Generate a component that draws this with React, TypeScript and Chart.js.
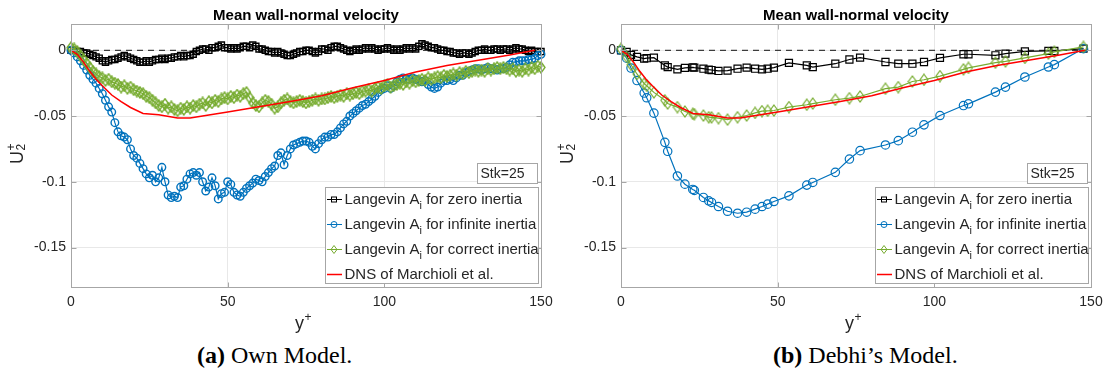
import React, { useEffect, useRef } from "react";
import { Chart, registerables } from "chart.js";

Chart.register(...registerables);

const FONT = '"Liberation Sans", Arial, Helvetica, sans-serif';
const TEXT = "#262626";
const AXIS = "#a6a6a6";
const GRID = "#e8e8e8";
const BLACK = "#000000";
const BLUE = "#0072BD";
const GREEN = "#77AC30";
const RED = "#FF0000";

// ---------- data: own model (left) ----------
const yPlusOwn = [
  0, 1, 2, 3, 4, 5, 6, 7, 8, 9, 10, 11, 12, 13, 14, 15, 16, 17, 18, 19, 20, 21, 22, 23, 24, 25, 26, 27, 28, 29,
  30, 31, 32, 33, 34, 35, 36, 37, 38, 39, 40, 41, 42, 43, 44, 45, 46, 47, 48, 49, 50, 51, 52, 53, 54, 55, 56, 57, 58, 59,
  60, 61, 62, 63, 64, 65, 66, 67, 68, 69, 70, 71, 72, 73, 74, 75, 76, 77, 78, 79, 80, 81, 82, 83, 84, 85, 86, 87, 88, 89,
  90, 91, 92, 93, 94, 95, 96, 97, 98, 99, 100, 101, 102, 103, 104, 105, 106, 107, 108, 109, 110, 111, 112, 113, 114, 115, 116, 117, 118, 119,
  120, 121, 122, 123, 124, 125, 126, 127, 128, 129, 130, 131, 132, 133, 134, 135, 136, 137, 138, 139, 140, 141, 142, 143, 144, 145, 146, 147, 148, 149,
  150,
];

const zeroInertiaOwn = [
  0, 0, -0.001, -0.001, -0.002, -0.002, -0.003, -0.004, -0.005, -0.006,
  -0.008, -0.009, -0.008, -0.007, -0.007, -0.006, -0.005, -0.004, -0.005, -0.006,
  -0.007, -0.008, -0.009, -0.009, -0.008, -0.009, -0.008, -0.007, -0.007, -0.006,
  -0.007, -0.006, -0.006, -0.005, -0.005, -0.004, -0.005, -0.004, -0.004, -0.003,
  -0.001, 0.0, 0.001, 0.001, 0.0, 0.002, 0.002, 0.003, 0.004, 0.002,
  0.002, 0.001, 0.002, 0.001, 0.002, 0.003, 0.003, 0.002, 0.004, 0.003,
  0.001, 0.001, 0.0, -0.001, -0.001, -0.002, -0.001, -0.002, -0.003, -0.004,
  -0.004, -0.003, -0.002, -0.001, -0.001, 0.0, 0.0, -0.001, -0.002, -0.001,
  0.001, 0.001, 0.0, 0.002, 0.003, 0.003, 0.002, 0.001, 0.0, -0.001,
  0.0, 0.001, 0.0, 0.001, 0.002, 0.001, 0.002, 0.001, 0.0, 0.001,
  0.001, 0.002, 0.001, 0.0, 0.001, 0.0, 0.001, 0.002, 0.001, 0.002,
  0.001, 0.003, 0.005, 0.004, 0.003, 0.002, 0.002, 0.001, 0.0, 0.0,
  -0.001, -0.001, -0.002, -0.002, -0.003, -0.002, -0.002, -0.003, -0.002, -0.001,
  0.0, 0.0, 0.001, 0.0, 0.0, 0.001, 0.001, 0.0, 0.001, 0.001,
  0.0, 0.001, 0.002, 0.001, 0.001, 0.0, -0.001, 0.0, -0.001, -0.001,
  -0.001,
];

const infiniteInertiaOwn = [
  0, -0.002, -0.005, -0.008, -0.0115, -0.015, -0.019, -0.022, -0.025, -0.029,
  -0.033, -0.038, -0.043, -0.047, -0.055, -0.062, -0.065, -0.066, -0.068, -0.075,
  -0.08, -0.082, -0.086, -0.09, -0.094, -0.097, -0.095, -0.1, -0.097, -0.089,
  -0.1, -0.11, -0.112, -0.111, -0.112, -0.104, -0.103, -0.098, -0.094, -0.093,
  -0.095, -0.093, -0.1, -0.107, -0.104, -0.097, -0.103, -0.113, -0.109, -0.108,
  -0.1, -0.102, -0.108, -0.11, -0.111, -0.108, -0.105, -0.103, -0.101, -0.098,
  -0.099, -0.1, -0.096, -0.093, -0.09, -0.088, -0.08, -0.078, -0.087, -0.08,
  -0.075, -0.072, -0.071, -0.07, -0.069, -0.069, -0.07, -0.073, -0.075, -0.071,
  -0.068, -0.066, -0.066, -0.064, -0.064, -0.062, -0.059, -0.056, -0.054, -0.05,
  -0.048, -0.046, -0.044, -0.042, -0.041, -0.039, -0.037, -0.035, -0.032, -0.03,
  -0.029, -0.027, -0.029, -0.027, -0.024, -0.022, -0.021, -0.022, -0.022, -0.021,
  -0.022, -0.023, -0.024, -0.023, -0.026, -0.028, -0.029, -0.028, -0.025, -0.023,
  -0.023, -0.022, -0.023, -0.021, -0.019, -0.019, -0.017, -0.016, -0.015, -0.014,
  -0.014, -0.015, -0.014, -0.013, -0.014, -0.014, -0.015, -0.014, -0.014, -0.013,
  -0.011, -0.009, -0.009, -0.008, -0.008, -0.008, -0.007, -0.007, -0.006, -0.004,
  -0.003,
];

const correctInertiaOwn = [
  0.002, 0.001, -0.001, -0.004, -0.007, -0.01, -0.013, -0.016, -0.018, -0.02,
  -0.021, -0.023, -0.022, -0.024, -0.025, -0.026, -0.028, -0.027, -0.029, -0.028,
  -0.03, -0.031, -0.032, -0.033, -0.035, -0.036, -0.038, -0.04, -0.042, -0.043,
  -0.041, -0.044, -0.043, -0.045, -0.046, -0.044, -0.045, -0.043, -0.044, -0.042,
  -0.043, -0.041, -0.04, -0.042, -0.039, -0.04, -0.038, -0.039, -0.037, -0.036,
  -0.037, -0.035, -0.036, -0.034, -0.035, -0.033, -0.032, -0.036, -0.04, -0.042,
  -0.043, -0.04, -0.038, -0.039, -0.041, -0.044, -0.043, -0.04, -0.038, -0.037,
  -0.039, -0.04, -0.039, -0.038, -0.039, -0.04, -0.039, -0.038, -0.037, -0.038,
  -0.037, -0.037, -0.036, -0.035, -0.036, -0.035, -0.034, -0.035, -0.033, -0.034,
  -0.033, -0.032, -0.033, -0.031, -0.031, -0.03, -0.031, -0.029, -0.028, -0.029,
  -0.027, -0.026, -0.028, -0.027, -0.026, -0.025, -0.026, -0.024, -0.025, -0.023,
  -0.024, -0.023, -0.022, -0.023, -0.021, -0.022, -0.021, -0.02, -0.021, -0.019,
  -0.02, -0.019, -0.018, -0.019, -0.017, -0.018, -0.016, -0.017, -0.016, -0.015,
  -0.016, -0.015, -0.016, -0.014, -0.015, -0.014, -0.013, -0.014, -0.013, -0.014,
  -0.015, -0.014, -0.016, -0.015, -0.016, -0.014, -0.015, -0.013, -0.014, -0.012,
  -0.013,
];

// ---------- data: Debhi's model (right) ----------
const yPlusDebhi = [
  0, 1.8, 3.2, 5.1, 7.4, 8.2, 10.5, 14.0, 14.9, 18.0, 20.4, 22.9, 23.4, 26.3, 28.0, 28.9, 31.1, 34.0, 37.2, 40.1,
  42.8, 45.0, 46.8, 48.8, 53.6, 59.3, 61.2, 68.4, 72.9, 76.3, 84.4, 88.5, 93.0, 96.7, 101.8, 109.3, 110.9, 119.5,
  122.7, 128.9, 136.4, 138.3, 147.6,
];
const zeroInertiaDebhi = [
  0, -0.0013, -0.0035, -0.005, -0.0063, -0.006, -0.0056, -0.0115, -0.0128, -0.0145, -0.0134, -0.013, -0.0132,
  -0.014, -0.0147, -0.015, -0.0157, -0.0155, -0.014, -0.0132, -0.014, -0.0145, -0.014, -0.0132, -0.0096, -0.0115,
  -0.0128, -0.0102, -0.007, -0.0056, -0.0089, -0.0102, -0.0102, -0.0089, -0.0058, -0.003, -0.003, -0.0038, -0.0025,
  -0.0008, -0.0005, -0.0005, 0.0013,
];
const infiniteInertiaDebhi = [
  0, -0.006, -0.0135, -0.023, -0.0325, -0.0361, -0.0478, -0.07, -0.0768, -0.0956, -0.1018, -0.1058, -0.1065,
  -0.1119, -0.1145, -0.1157, -0.1188, -0.1224, -0.1239, -0.1231, -0.1208, -0.1188, -0.117, -0.115, -0.1107,
  -0.1025, -0.1005, -0.0928, -0.0827, -0.0763, -0.072, -0.0687, -0.0623, -0.0567, -0.0496, -0.042, -0.0407,
  -0.0318, -0.028, -0.0203, -0.0127, -0.0109, 0.0013,
];
const correctInertiaDebhi = [
  0.001, -0.005, -0.011, -0.018, -0.0254, -0.027, -0.032, -0.038, -0.0405, -0.0432, -0.0465, -0.0483, -0.0485,
  -0.0496, -0.0509, -0.051, -0.0516, -0.0527, -0.0509, -0.0496, -0.0476, -0.0463, -0.046, -0.0458, -0.0432,
  -0.0414, -0.0405, -0.0376, -0.0364, -0.0351, -0.0292, -0.028, -0.0237, -0.0224, -0.0196, -0.0145, -0.0134,
  -0.0094, -0.0084, -0.0058, -0.0025, -0.0012, 0.0026,
];

// ---------- DNS reference (both panels) ----------
const yPlusDns = [0, 2, 4, 6, 8, 10, 13, 16, 19, 23, 28, 34, 38, 42, 46, 50, 60, 70, 80, 90, 100, 110, 120, 130, 140, 148];
const dnsMarchioli = [
  0, -0.003, -0.009, -0.016, -0.022, -0.027, -0.034, -0.039, -0.0435, -0.048, -0.049, -0.0515, -0.0515, -0.05,
  -0.0485, -0.047, -0.043, -0.039, -0.0345, -0.0285, -0.023, -0.0165, -0.0115, -0.0075, -0.0035, 0,
];

const zeroLineX = [0, 150];
const zeroLineY = [0, 0];

const xTicks = [0, 50, 100, 150];
const xTickLabels = ["0", "50", "100", "150"];
const yTicks = [0, -0.05, -0.1, -0.15];
const yTickLabels = ["0", "-0.05", "-0.1", "-0.15"];

const chartTitle = "Mean wall-normal velocity";
const stkLabel = "Stk=25";
const legendPrefix = "Langevin A";
const legendSub = "i";
const legendSuffixes = [" for zero inertia", " for infinite inertia", " for correct inertia"];
const dnsLabel = "DNS of Marchioli et al.";

const CW = 561;
const CH = 340;

function makeDiamond(w: number, h: number, color: string, lw: number) {
  const c = document.createElement("canvas");
  c.width = w + 2;
  c.height = h + 2;
  const g = c.getContext("2d")!;
  g.strokeStyle = color;
  g.lineWidth = lw;
  g.beginPath();
  g.moveTo(c.width / 2, 1);
  g.lineTo(c.width - 1, c.height / 2);
  g.lineTo(c.width / 2, c.height - 1);
  g.lineTo(1, c.height / 2);
  g.closePath();
  g.stroke();
  return c;
}

type Sizes = { sq: number; circ: number; dW: number; dH: number; lw: number };

function Panel(props: {
  x: number[];
  zero: number[];
  inf: number[];
  corr: number[];
  sizes: Sizes;
  left: number;
}) {
  const ref = useRef<HTMLCanvasElement>(null);
  useEffect(() => {
    const canvas = ref.current!;
    const { x, zero, inf, corr, sizes } = props;
    const diamond = makeDiamond(sizes.dW, sizes.dH, GREEN, sizes.lw);
    const pts = (xs: number[], ys: number[]) => xs.map((v, i) => ({ x: v, y: ys[i] }));

    const decor = {
      id: "decor",
      afterDraw(chart: any) {
        const ctx = chart.ctx as CanvasRenderingContext2D;
        const a = chart.chartArea;
        const sx = chart.scales.x;
        const sy = chart.scales.y;
        ctx.save();
        const L = Math.round(a.left) + 0.5;
        const R = Math.round(a.right) + 0.5;
        const T = Math.round(a.top) + 0.5;
        const B = Math.round(a.bottom) + 0.5;
        ctx.strokeStyle = AXIS;
        ctx.lineWidth = 1;
        ctx.setLineDash([]);
        ctx.strokeRect(L, T, R - L, B - T);
        ctx.beginPath();
        xTicks.forEach((v) => {
          const px = Math.round(sx.getPixelForValue(v)) + 0.5;
          ctx.moveTo(px, B);
          ctx.lineTo(px, B - 5);
          ctx.moveTo(px, T);
          ctx.lineTo(px, T + 5);
        });
        yTicks.forEach((v) => {
          const py = Math.round(sy.getPixelForValue(v)) + 0.5;
          ctx.moveTo(L, py);
          ctx.lineTo(L + 5, py);
          ctx.moveTo(R, py);
          ctx.lineTo(R - 5, py);
        });
        ctx.stroke();

        // title
        ctx.fillStyle = "#000";
        ctx.font = `bold 15px ${FONT}`;
        ctx.textAlign = "center";
        ctx.textBaseline = "alphabetic";
        ctx.fillText(chartTitle, (a.left + a.right) / 2, 19.5);

        // x label y^+
        ctx.fillStyle = TEXT;
        ctx.textAlign = "left";
        ctx.font = `18px ${FONT}`;
        const wy = ctx.measureText("y").width;
        ctx.font = `12px ${FONT}`;
        const wp = ctx.measureText("+").width;
        const xs0 = (a.left + a.right) / 2 - (wy + wp) / 2 - 3;
        ctx.font = `18px ${FONT}`;
        ctx.fillText("y", xs0, 329);
        ctx.font = `12px ${FONT}`;
        ctx.fillText("+", xs0 + wy + 0.5, 321);

        // y label U_2^+
        ctx.save();
        ctx.translate(23, 164);
        ctx.rotate(-Math.PI / 2);
        ctx.font = `18px ${FONT}`;
        ctx.fillText("U", 0, 0);
        const wu = ctx.measureText("U").width;
        ctx.font = `12px ${FONT}`;
        ctx.fillText("2", wu + 0.5, 2);
        ctx.fillText("+", wu + 0.5, -8);
        ctx.restore();

        // Stk box
        const bx = Math.round(a.right - 64) + 0.5;
        const by = Math.round(a.bottom - 124) + 0.5;
        ctx.fillStyle = "#fff";
        ctx.fillRect(bx, by, 60, 20);
        ctx.strokeStyle = AXIS;
        ctx.strokeRect(bx, by, 60, 20);
        ctx.fillStyle = TEXT;
        ctx.font = `14px ${FONT}`;
        ctx.textBaseline = "middle";
        ctx.fillText(stkLabel, bx + 3, by + 10.5);

        // legend
        const lx = Math.round(a.right - 216) + 0.5;
        const ly = Math.round(a.bottom - 100) + 0.5;
        ctx.fillStyle = "#fff";
        ctx.fillRect(lx, ly, 213, 96);
        ctx.strokeStyle = AXIS;
        ctx.strokeRect(lx, ly, 213, 96);
        const colors = [BLACK, BLUE, GREEN, RED];
        for (let i = 0; i < 4; i++) {
          const yy = ly + 12 + i * 25;
          ctx.strokeStyle = colors[i];
          ctx.lineWidth = i === 3 ? 1.5 : 1;
          ctx.beginPath();
          ctx.moveTo(lx + 1.5, yy);
          ctx.lineTo(lx + 16.5, yy);
          ctx.stroke();
          ctx.lineWidth = 1;
          const mx = lx + 8.5;
          if (i === 0) {
            ctx.strokeRect(mx - 2.5, yy - 2.5, 5, 5);
          } else if (i === 1) {
            ctx.beginPath();
            ctx.arc(mx, yy, 3, 0, Math.PI * 2);
            ctx.stroke();
          } else if (i === 2) {
            ctx.beginPath();
            ctx.moveTo(mx, yy - 4);
            ctx.lineTo(mx + 3, yy);
            ctx.lineTo(mx, yy + 4);
            ctx.lineTo(mx - 3, yy);
            ctx.closePath();
            ctx.stroke();
          }
          ctx.fillStyle = TEXT;
          ctx.textBaseline = "middle";
          ctx.font = `15px ${FONT}`;
          const tx = lx + 19;
          if (i < 3) {
            ctx.fillText(legendPrefix, tx, yy);
            const w1 = ctx.measureText(legendPrefix).width;
            ctx.font = `11px ${FONT}`;
            ctx.fillText(legendSub, tx + w1, yy + 6);
            const w2 = ctx.measureText(legendSub).width;
            ctx.font = `15px ${FONT}`;
            ctx.fillText(legendSuffixes[i], tx + w1 + w2, yy);
          } else {
            ctx.fillText(dnsLabel, tx, yy);
          }
        }
        ctx.restore();
      },
    };

    const chart = new Chart(canvas, {
      type: "scatter",
      data: {
        datasets: [
          {
            data: pts(yPlusDns, dnsMarchioli),
            showLine: true,
            borderColor: RED,
            borderWidth: 1.5,
            pointRadius: 0,
            order: 0,
            clip: false,
          },
          {
            data: pts(x, corr),
            showLine: true,
            borderColor: GREEN,
            borderWidth: 1.2,
            pointStyle: diamond,
            pointRadius: 4,
            order: 1,
            clip: false,
          },
          {
            data: pts(x, inf),
            showLine: true,
            borderColor: BLUE,
            borderWidth: 1.2,
            pointStyle: "circle",
            pointRadius: sizes.circ,
            pointBorderColor: BLUE,
            pointBackgroundColor: "rgba(0,0,0,0)",
            pointBorderWidth: sizes.lw,
            order: 2,
            clip: false,
          },
          {
            data: pts(x, zero),
            showLine: true,
            borderColor: BLACK,
            borderWidth: 1.2,
            pointStyle: "rect",
            pointRadius: sizes.sq,
            pointBorderColor: BLACK,
            pointBackgroundColor: "rgba(0,0,0,0)",
            pointBorderWidth: sizes.lw,
            order: 3,
            clip: false,
          },
          {
            data: pts(zeroLineX, zeroLineY),
            showLine: true,
            borderColor: "#111",
            borderWidth: 1,
            borderDash: [6, 5],
            pointRadius: 0,
            order: 4,
          },
        ] as any,
      },
      options: {
        responsive: false,
        animation: false,
        events: [],
        layout: { padding: { left: 0, right: 20, top: 24, bottom: 0 } },
        plugins: { legend: { display: false }, tooltip: { enabled: false }, title: { display: false } },
        scales: {
          x: {
            type: "linear",
            min: 0,
            max: 150,
            afterBuildTicks: (s: any) => {
              s.ticks = xTicks.map((v) => ({ value: v }));
            },
            afterFit: (s: any) => {
              s.height = CH - 287;
            },
            grid: { color: GRID, drawTicks: false },
            border: { display: false },
            ticks: {
              color: TEXT,
              font: { family: FONT, size: 14 },
              padding: 7,
              maxRotation: 0,
              autoSkip: false,
              callback: (v: any) => xTickLabels[xTicks.indexOf(Number(v))] ?? "",
            },
          },
          y: {
            type: "linear",
            min: -0.18,
            max: 0.02,
            afterBuildTicks: (s: any) => {
              s.ticks = yTicks.map((v) => ({ value: v }));
            },
            afterFit: (s: any) => {
              s.width = 71;
            },
            grid: { color: GRID, drawTicks: false },
            border: { display: false },
            ticks: {
              color: TEXT,
              font: { family: FONT, size: 14 },
              padding: 5,
              autoSkip: false,
              callback: (v: any) => {
                const idx = yTicks.findIndex((t) => Math.abs(t - Number(v)) < 1e-9);
                return idx >= 0 ? yTickLabels[idx] : "";
              },
            },
          },
        },
      } as any,
      plugins: [decor],
    });
    return () => chart.destroy();
  }, []);
  return (
    <canvas
      ref={ref}
      width={CW}
      height={CH}
      style={{ position: "absolute", left: props.left, top: 0, width: CW, height: CH, display: "block" }}
    />
  );
}

const captionStyle: React.CSSProperties = {
  position: "absolute",
  top: 343,
  fontFamily: '"Liberation Serif", "DejaVu Serif", serif',
  fontSize: 24,
  lineHeight: "24px",
  whiteSpace: "nowrap",
  color: "#000",
};

export default function App() {
  return (
    <div style={{ position: "absolute", left: 0, top: 0, width: 1111, height: 381, background: "#fff", overflow: "hidden" }}>
      <Panel
        x={yPlusOwn}
        zero={zeroInertiaOwn}
        inf={infiniteInertiaOwn}
        corr={correctInertiaOwn}
        sizes={{ sq: 4.3, circ: 3.8, dW: 8, dH: 11, lw: 1.4 }}
        left={0}
      />
      <Panel
        x={yPlusDebhi}
        zero={zeroInertiaDebhi}
        inf={infiniteInertiaDebhi}
        corr={correctInertiaDebhi}
        sizes={{ sq: 5, circ: 4.2, dW: 8, dH: 11, lw: 1.2 }}
        left={550}
      />
      <div style={{ ...captionStyle, left: 197 }}>
        <b>(a)</b> Own Model.
      </div>
      <div style={{ ...captionStyle, left: 773 }}>
        <b>(b)</b> Debhi’s Model.
      </div>
    </div>
  );
}
